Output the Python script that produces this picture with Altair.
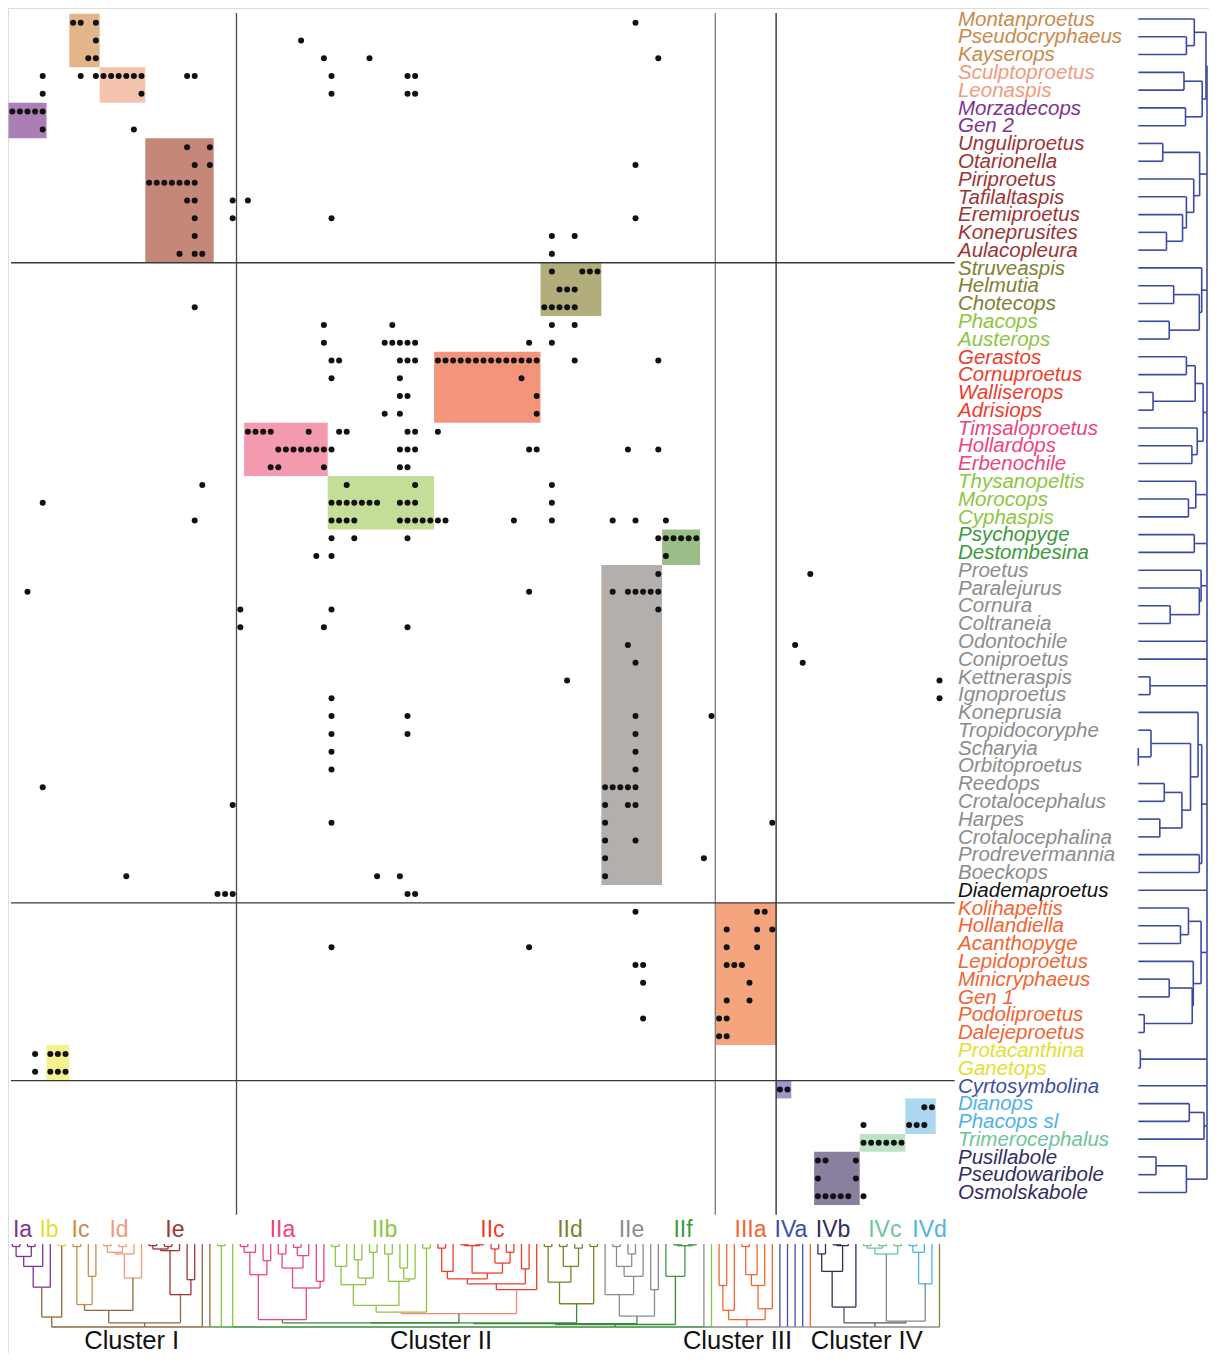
import altair as alt
import pandas as pd

# ---------------- data ----------------
genera = ["Montanproetus", "Pseudocryphaeus", "Kayserops", "Sculptoproetus", "Leonaspis",
          "Morzadecops", "Gen 2", "Unguliproetus", "Otarionella", "Piriproetus", "Tafilaltaspis",
          "Eremiproetus", "Koneprusites", "Aulacopleura", "Struveaspis", "Helmutia", "Chotecops",
          "Phacops", "Austerops", "Gerastos", "Cornuproetus", "Walliserops", "Adrisiops",
          "Timsaloproetus", "Hollardops", "Erbenochile", "Thysanopeltis", "Morocops", "Cyphaspis",
          "Psychopyge", "Destombesina", "Proetus", "Paralejurus", "Cornura", "Coltraneia",
          "Odontochile", "Coniproetus", "Kettneraspis", "Ignoproetus", "Koneprusia",
          "Tropidocoryphe", "Scharyia", "Orbitoproetus", "Reedops", "Crotalocephalus", "Harpes",
          "Crotalocephalina", "Prodrevermannia", "Boeckops", "Diademaproetus", "Kolihapeltis",
          "Hollandiella", "Acanthopyge", "Lepidoproetus", "Minicryphaeus", "Gen 1",
          "Podoliproetus", "Dalejeproetus", "Protacanthina", "Ganetops", "Cyrtosymbolina",
          "Dianops", "Phacops sl", "Trimerocephalus", "Pusillabole", "Pseudowaribole", "Osmolskabole"]

genus_group = (["Ic"] * 3 + ["Id"] * 2 + ["Ia"] * 2 + ["Ie"] * 7 + ["IId"] * 3 + ["IIb"] * 2 +
               ["IIc"] * 4 + ["IIa"] * 3 + ["IIb"] * 3 + ["IIf"] * 2 + ["IIe"] * 18 + ["none"] +
               ["IIIa"] * 8 + ["Ib"] * 2 + ["IVa"] + ["IVd"] * 2 + ["IVc"] + ["IVb"] * 3)

# characters present (column indices) for each genus row
dots = [
    [8, 9, 11, 82], [11, 38], [10, 11, 41, 47, 85],
    [4, 9, 11, 12, 13, 14, 15, 16, 17, 23, 24, 42, 52, 53], [4, 17, 42, 52, 53],
    [0, 1, 2, 3, 4], [4, 16], [23, 26], [24, 26, 82], [18, 19, 20, 21, 22, 23, 24],
    [23, 24, 29, 31], [24, 29, 42, 82], [24, 71, 74], [22, 24, 25, 71],
    [71, 75, 76, 77], [72, 73, 74], [24, 70, 71, 72, 73, 74], [41, 50, 71, 74],
    [41, 49, 50, 51, 52, 53, 68, 71],
    [42, 43, 51, 52, 53, 56, 57, 58, 59, 60, 61, 62, 63, 64, 65, 66, 67, 68, 69, 74, 85],
    [42, 51, 67], [51, 52, 69], [49, 51, 69],
    [31, 32, 33, 34, 39, 43, 44, 52, 53, 56],
    [35, 36, 37, 38, 39, 40, 41, 42, 51, 52, 53, 68, 69, 81, 85],
    [34, 35, 41, 51, 52], [25, 44, 53, 71],
    [4, 42, 43, 44, 45, 46, 47, 48, 51, 52, 53, 71],
    [24, 42, 43, 44, 45, 51, 52, 53, 54, 55, 56, 57, 66, 71, 79, 82, 86],
    [42, 45, 52, 85, 86, 87, 88, 89, 90], [40, 42, 86], [85, 105],
    [2, 68, 79, 81, 82, 83, 84, 85], [30, 42, 85], [30, 41, 52], [81, 103], [82, 104],
    [73, 122], [42, 122], [42, 52, 82, 92], [42, 52, 82], [42, 82], [42, 82],
    [4, 78, 79, 80, 81, 82], [29, 78, 81, 82], [42, 78, 100], [78, 82], [78, 91],
    [15, 48, 51, 78], [27, 28, 29, 52, 53],
    [82, 98, 99], [94, 98, 100], [42, 68, 94, 98], [82, 83, 94, 95, 96], [83, 97],
    [94, 97], [83, 93, 94], [93, 94], [3, 5, 6, 7], [3, 5, 6, 7], [101, 102],
    [120, 121], [112, 118, 119, 120], [112, 113, 114, 115, 116, 117], [106, 107, 111],
    [106, 111], [106, 107, 108, 109, 110, 112],
]

# highlighted blocks
box_key = ["Ic", "Id", "Ia", "Ie", "IId", "IIc", "IIa", "IIb", "IIf", "IIe", "IIIa", "Ib", "IVa", "IVd", "IVc", "IVb"]
box_col0 = [8, 12, 0, 18, 70, 56, 31, 42, 86, 78, 93, 5, 101, 118, 112, 106]
box_col1 = [11, 17, 4, 26, 77, 69, 41, 55, 90, 85, 100, 7, 102, 121, 117, 111]
box_row0 = [0, 3, 5, 7, 14, 19, 23, 26, 29, 31, 50, 58, 60, 61, 63, 64]
box_row1 = [2, 4, 6, 13, 16, 22, 25, 28, 30, 48, 57, 59, 60, 62, 63, 66]

# cluster separators (between columns / rows)
v_dividers = [29.5, 92.5, 100.5]
h_dividers = [13.5, 49.5, 59.5]

sub_names = ["Ia", "Ib", "Ic", "Id", "Ie", "IIa", "IIb", "IIc", "IId", "IIe", "IIf",
             "IIIa", "IVa", "IVb", "IVc", "IVd"]
cluster_names = ["Cluster I", "Cluster II", "Cluster III", "Cluster IV"]

# ---- dendrogram of genera (right): [left, right, height] ----
rA = [[0, [1, 2, .70], .815], [[3, 4, .665], [5, 6, .687], .93], .985]
rB = [[7, 8, .356], [9, [10, [11, [12, 13, .41], .644], .70], .807], .893]
rC = [14, [[15, 16, .515], [17, 18, .45], .888], .923]
rDE = [[[19, 20, .70], [21, 22, .215], .828], [23, [24, 25, .78], .858], .944]
rF = [26, [27, 28, .73], .837]
rL = [29, 30, .815]
rM = [31, [32, [33, 34, .464], .888], .914]
rP = [37, 38, .17]
rG = [[39, [[40, [41, 42, .0], .185], [[43, 44, .378], [45, 46, .313], .635], .76], .87],
      [47, 48, .888], .923]
rH = [[50, [51, 52, .614], .73], [53, [[54, 55, .45], [56, 57, .086], .785], .80], .914]
rI = [58, 59, .03]
rJ = [[61, 62, .742], 63, .957]
rK = [[64, 65, .258], 66, .70]
right_parts = [rA, rB, rC, rDE, rF, rL, rM, 35, 36, rP, rG, 49, rH, rI, 60, rJ, rK]

# ---- dendrogram of characters (bottom): [left, right, depth, colour-key] ----
Ia = [[[0, 1, .03], [2, 3, .03], .15], 4, .27, "Ia"]
IaIb = [[Ia, 5, .52, "Ia"], [6, 7, .02, "Ib"], .88, "I"]
Ic = [[8, 9, .03], [10, 11, .39], .73, "Ic"]
Id = [[[[12, 13, .02], [14, 15, .03], .1], 16, .12], 17, .41, "Id"]
IcId = [Ic, Id, .80, "I"]
Ie = [[[[18, 19, .02], [20, 21, .03], .06], 22, .08], [23, 24, .43], .61, "Ie"]
I1 = [IcId, Ie, .95, "I"]
IIa = [[[[30, 31, .03], 32, .1], [33, 34, .2], .37],
       [[[35, 36, .12], [[37, 38, .04], 39, .14], .29], [40, 41, .45], .53], .91, "IIa"]
IIb = [[[[[42, 43, .03], 44, .27], [[45, 46, .19], [47, 48, .1], .41], .49],
        [[49, 50, .12], [[51, 52, .29], 53, .42], .45], .74], [54, 55, .05], .82, "IIb"]
IIc_x = [[[56, 57, .05], 58, .33], [[[59, 60, .01], [61, 62, .01], .02], [[63, 64, .06], [65, 66, .1], .23], .35], .42]
IIc = [[IIc_x, [67, 68, .3], .48], 69, .55, "IIc"]
IIbc = [IIb, IIc, .84, "IIbc"]
IId = [[[70, 71, .03], [[72, 73, .03], [74, 75, .05], .27], .46], [76, 77, .03], .72, "IId"]
IIe = [[78, [[[79, 80, .03], [81, 82, .12], .27], 83, .39], .61], [84, 85, .55], .87, "IIe"]
IIf = [86, [[87, 88, .01], [89, 90, .01], .02], .39, "IIf"]
II = [[[[IIa, IIbc, .95], IId, .95], IIe, .96], IIf, .97, "II"]
IIIa = [[[93, 94, .5], 95, .8], [[[[96, 97, .03], 98, .37], 99, .5], 100, .78], .91, "IIIa"]
IVb = [[[106, 107, .12], [[108, 109, .01], 110, .02], .33], 111, .76, "IVb"]
IVc = [[[112, 113, .02], [114, 115, .02], .05], [116, 117, .02], .12, "IVc"]
IVd = [[[118, 119, .02], 120, .1], 121, .48, "IVd"]
IV = [IVb, [IVc, IVd, .93, "IVcd"], .95, "IV"]
# (subtree, stem colour, baseline colour)
bottom_parts = [(IaIb, "I", "I"), (I1, "I", "I"), (25, "I", "I"), (26, "I", "I"),
                ([27, 28, .02, "IIb"], "IIb", "II"), (29, "IIb", "II"), (II, "II", "II"),
                (91, "IIe", "II"), (92, "IIb", "II"), (IIIa, "IIIa", "base"),
                (101, "IVa", "base"), (102, "IVa", "base"), (103, "IVa", "base"),
                (104, "IVa", "base"), (105, "IIIa", "base"), (IV, "IV", "base"), (122, "IId", "base")]

# ---------------- styles ----------------
text_col = {"Ia": "#7F3391", "Ib": "#E3DE35", "Ic": "#C98A4B", "Id": "#F19A7E", "Ie": "#9E3434",
            "IIa": "#EE4480", "IIb": "#8DC641", "IIc": "#EF3D2B", "IId": "#80802F", "IIe": "#8C8C8C",
            "IIf": "#3D9A3D", "IIIa": "#F26532", "IVa": "#3E4EA6", "IVb": "#2F2E5E", "IVc": "#6DC59A",
            "IVd": "#4FB2E5", "none": "#111111", "I": "#8B6A3E", "II": "#3A8A3A", "IIbc": "#F08C74",
            "IVcd": "#7A8C8C", "IV": "#55556A", "base": "#8C8C8C", "R": "#3C4BA0"}
box_col = {"Ia": "#A97FB5", "Ib": "#F6F08E", "Ic": "#E2B68A", "Id": "#F4C3AE", "Ie": "#C4877A",
           "IIa": "#F49AAE", "IIb": "#C4DE97", "IIc": "#F4957B", "IId": "#B2AE7B", "IIe": "#B4AFAB",
           "IIf": "#9BBE89", "IIIa": "#F5A57E", "IVa": "#9C98CF", "IVb": "#8B7FA0", "IVc": "#BCE3C5",
           "IVd": "#ABD7EF"}
sub_label_col = [1.34, 4.83, 8.97, 14.04, 21.4, 35.55, 48.97, 63.18, 73.38, 81.47, 88.25,
                 97.13, 102.46, 107.99, 114.8, 120.7]
cluster_label_col = [15.71, 56.41, 95.42, 112.42]
SUB_LABEL_ROW = 67.9
CLUSTER_LABEL_ROW = 74.15
NAME_COL = 124.43
FONT = "Liberation Sans"

# plot fits inside the 1217x1367 window (8px page margin)
W, H = 1201, 1345
X_COL = alt.Scale(domain=[-0.5658, 157.46], nice=False, zero=False)
Y_ROW = alt.Scale(domain=[-0.8268, 74.82], nice=False, zero=False, reverse=True)
X_H = alt.Scale(domain=[-16.453, 1.0291], nice=False, zero=False)
Y_D = alt.Scale(domain=[-14.892, 1.3133], nice=False, zero=False, reverse=True)


# ---------------- dendrogram geometry ----------------
def walk(node, colour, segs):
    if isinstance(node, int):
        return float(node), 0.0
    c = node[3] if len(node) > 3 else colour
    pl, dl = walk(node[0], c, segs)
    pr, dr = walk(node[1], c, segs)
    d = node[2]
    segs.append((pl, dl, pl, d, c))
    segs.append((pr, dr, pr, d, c))
    segs.append((pl, d, pr, d, c))
    return (pl + pr) / 2.0, d


def comb(parts, segs):
    prev = None
    for node, stem, base in parts:
        p, d = walk(node, stem, segs)
        segs.append((p, d, p, 1.0, stem))
        if prev is not None:
            segs.append((prev, 1.0, p, 1.0, base))
        prev = p


bsegs = []
comb(bottom_parts, bsegs)
bottom_df = pd.DataFrame(bsegs, columns=["p", "d", "p2", "d2", "k"])
bottom_df["c"] = bottom_df["k"].map(text_col)

rsegs = []
comb([(p, "R", "R") for p in right_parts], rsegs)
right_df = pd.DataFrame(rsegs, columns=["p", "d", "p2", "d2", "k"])
right_df["c"] = right_df["k"].map(text_col)

# ---------------- tables ----------------
dot_df = pd.DataFrame([(c, r) for r, cols in enumerate(dots) for c in cols], columns=["col", "row"])

box_df = pd.DataFrame({"key": box_key, "c0": box_col0, "c1": box_col1, "r0": box_row0, "r1": box_row1})
box_df["x"] = box_df["c0"] - 0.5
box_df["x2"] = box_df["c1"] + 0.5
box_df["y"] = box_df["r0"] - 0.5
box_df["y2"] = box_df["r1"] + 0.5
box_df["fill"] = box_df["key"].map(box_col)

vline_df = pd.DataFrame({"x": v_dividers, "y": [-0.55] * 3, "y2": [67.05] * 3,
                         "c": ["#4a4a4a", "#7a7a7a", "#222222"]})
hline_df = pd.DataFrame({"y": h_dividers, "x": [-0.17] * 3, "x2": [124.0] * 3})

name_df = pd.DataFrame({"row": list(range(len(genera))), "name": genera,
                        "c": [text_col[g] for g in genus_group], "x": [NAME_COL] * len(genera)})
sub_df = pd.DataFrame({"name": sub_names, "x": sub_label_col, "y": [SUB_LABEL_ROW] * len(sub_names),
                       "c": [text_col[s] for s in sub_names]})
cl_df = pd.DataFrame({"name": cluster_names, "x": cluster_label_col,
                      "y": [CLUSTER_LABEL_ROW] * len(cluster_names)})

# ---------------- layers ----------------
boxes = alt.Chart(box_df).mark_rect(opacity=1).encode(
    x=alt.X("x:Q", scale=X_COL, axis=None), x2="x2:Q",
    y=alt.Y("y:Q", scale=Y_ROW, axis=None), y2="y2:Q",
    color=alt.Color("fill:N", scale=None))

vlines = alt.Chart(vline_df).mark_rule(strokeWidth=1.3).encode(
    x=alt.X("x:Q", scale=X_COL, axis=None),
    y=alt.Y("y:Q", scale=Y_ROW, axis=None), y2="y2:Q",
    color=alt.Color("c:N", scale=None))

hlines = alt.Chart(hline_df).mark_rule(strokeWidth=1.3, color="#3a3a3a").encode(
    x=alt.X("x:Q", scale=X_COL, axis=None), x2="x2:Q",
    y=alt.Y("y:Q", scale=Y_ROW, axis=None))

points = alt.Chart(dot_df).mark_circle(size=36, color="#111111", opacity=1).encode(
    x=alt.X("col:Q", scale=X_COL, axis=None),
    y=alt.Y("row:Q", scale=Y_ROW, axis=None))

names = alt.Chart(name_df).mark_text(align="left", baseline="middle", fontStyle="italic",
                                     fontSize=20.5, font=FONT, dy=-3).encode(
    x=alt.X("x:Q", scale=X_COL, axis=None),
    y=alt.Y("row:Q", scale=Y_ROW, axis=None),
    text="name:N", color=alt.Color("c:N", scale=None))

right_tree = alt.Chart(right_df).mark_rule(strokeWidth=1.6, yOffset=-3.7, y2Offset=-3.7).encode(
    x=alt.X("d:Q", scale=X_H, axis=None), x2="d2:Q",
    y=alt.Y("p:Q", scale=Y_ROW, axis=None), y2="p2:Q",
    color=alt.Color("c:N", scale=None))

bottom_tree = alt.Chart(bottom_df).mark_rule(strokeWidth=1.3).encode(
    x=alt.X("p:Q", scale=X_COL, axis=None), x2="p2:Q",
    y=alt.Y("d:Q", scale=Y_D, axis=None), y2="d2:Q",
    color=alt.Color("c:N", scale=None))

sub_labels = alt.Chart(sub_df).mark_text(align="center", baseline="middle", fontSize=23, font=FONT).encode(
    x=alt.X("x:Q", scale=X_COL, axis=None),
    y=alt.Y("y:Q", scale=Y_ROW, axis=None),
    text="name:N", color=alt.Color("c:N", scale=None))

cl_labels = alt.Chart(cl_df).mark_text(align="center", baseline="middle", fontSize=25.5, font=FONT,
                                       color="#111111").encode(
    x=alt.X("x:Q", scale=X_COL, axis=None),
    y=alt.Y("y:Q", scale=Y_ROW, axis=None),
    text="name:N")

chart = alt.layer(boxes, vlines, hlines, points, names, right_tree, bottom_tree, sub_labels, cl_labels
                  ).resolve_scale(x="independent", y="independent").properties(
    width=W, height=H, autosize=alt.AutoSizeParams(type="none"), padding=0
).configure_view(stroke=None).configure(background="#ffffff")

chart.save("out.html", embed_options={"renderer": "svg", "actions": False})
